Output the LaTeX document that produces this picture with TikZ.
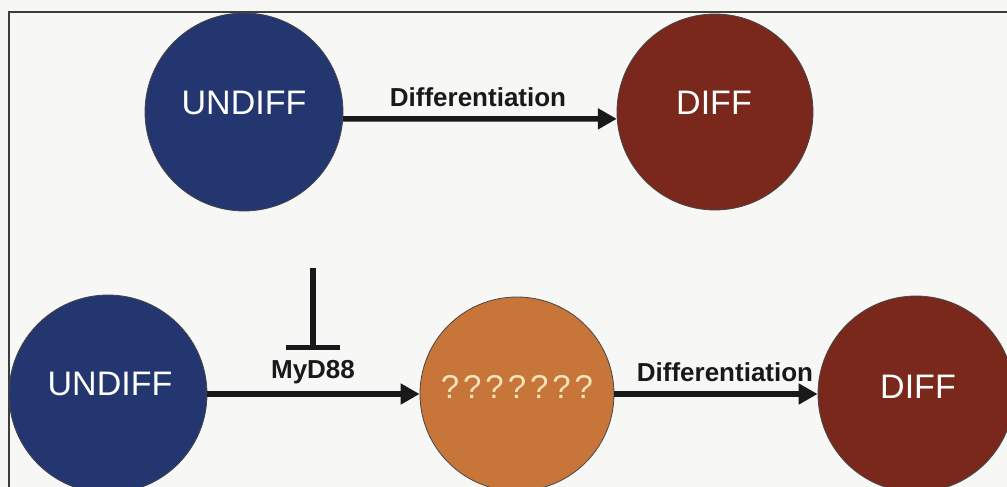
\documentclass[tikz,border=0pt]{standalone}
\usepackage{fontspec}
\setmainfont{Liberation Sans}
\newfontfamily\qmarkfont[LetterSpace=12]{Liberation Sans}
\usetikzlibrary{arrows.meta}
\definecolor{paper}{RGB}{247,247,246}
\definecolor{frameline}{RGB}{60,60,60}
\definecolor{cellblue}{RGB}{36,54,112}
\definecolor{cellred}{RGB}{122,40,28}
\definecolor{cellorange}{RGB}{199,117,56}
\definecolor{cream}{RGB}{245,228,186}
\definecolor{ink}{RGB}{25,25,25}
\tikzset{
  cell/.style={circle, draw=ink!80, line width=0.8pt, inner sep=0pt},
  undiff/.style={cell, fill=cellblue, minimum size=198pt},
  diff/.style={cell, fill=cellred, minimum size=196pt},
  unknown/.style={cell, fill=cellorange, minimum size=194pt},
  celltext/.style={text=white, inner sep=0pt, font=\fontsize{34}{36}\selectfont},
  promote/.style={draw=ink, line width=5.5pt, -{Triangle[length=19pt,width=20pt]}},
  inhibit/.style={draw=ink, line width=5.5pt, -{Bar[width=54pt]}},
  steplabel/.style={font=\bfseries\fontsize{26}{28}\selectfont, text=ink, inner sep=0pt},
}
\begin{document}
\begin{tikzpicture}[x=1pt,y=-1pt]
  \useasboundingbox (0,0) rectangle (1007,487);
  \fill[paper] (0,0) rectangle (1007,487);
  % open frame: only top and left edges fall inside the page
  \draw[frameline, line width=1.2pt] (9,487) -- (9,12) -- (1007,12);

  % upper pathway
  \node[undiff] (u1) at (244,112) {};
  \node[diff]   (d1) at (715,112) {};
  \node[celltext] (u1t) at (244,103) {UNDIFF};
  \node[celltext] (d1t) at (714,103) {DIFF};
  \draw[promote] (u1.-4) -- (d1.184);
  \node[steplabel] (l1) at (478,97) {Differentiation};

  % lower pathway
  \node[undiff]  (u2) at (108,394) {};
  \node[unknown] (q2) at (517,394) {};
  \node[diff]    (d2) at (916,394) {};
  \node[celltext] (u2t) at (110,384) {UNDIFF};
  \node[celltext, text=cream, font=\qmarkfont\fontsize{33}{35}\selectfont] (q2t) at (517,387) {???????};
  \node[celltext] (d2t) at (918,387) {DIFF};
  \draw[promote] (u2.east) -- (q2.west);
  \draw[promote] (q2.east) -- (d2.west);
  \node[steplabel] (l2) at (313,372) {MyD88};
  \node[steplabel] (l3) at (725,372) {Differentiation};

  % MyD88 block
  \coordinate (blk0) at (313,268);
  \coordinate (blk1) at (313,350);
  \draw[inhibit] (blk0) -- (blk1);
\end{tikzpicture}
\end{document}
